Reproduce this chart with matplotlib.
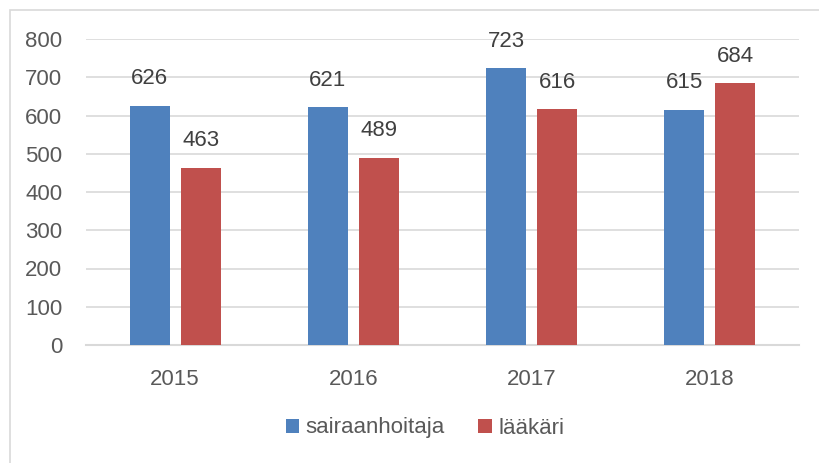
import numpy as np
import matplotlib.pyplot as plt
from matplotlib.patches import Rectangle

years = ['2015', '2016', '2017', '2018']
sairaanhoitaja = [626, 621, 723, 615]
laakari = [463, 489, 616, 684]
yticks = [0, 100, 200, 300, 400, 500, 600, 700, 800]

plt.rcParams['font.family'] = ['Liberation Sans', 'DejaVu Sans']

BLUE = '#4F81BD'
RED = '#C0504D'
TEXT = '#595959'
GRID = '#D9D9D9'

fig = plt.figure(figsize=(8.19, 4.63), dpi=100)
W, H = 819, 463

# chart area border (right and bottom edges fall outside the crop)
fig.patches.append(Rectangle((10 / W, -0.1), 1.2, 1 - 10 / H + 0.1,
                             transform=fig.transFigure, fill=False,
                             edgecolor=GRID, linewidth=1.2))

ax = fig.add_axes([86 / W, 1 - 345 / H, (799 - 86) / W, (345 - 39) / H])

x = np.arange(len(years))
w = 0.224
off = 0.143
b1 = ax.bar(x - off, sairaanhoitaja, w, color=BLUE, label='sairaanhoitaja', zorder=3)
b2 = ax.bar(x + off, laakari, w, color=RED, label='lääkäri', zorder=3)

for bars in (b1, b2):
    for r in bars:
        ax.annotate(f'{int(r.get_height())}', (r.get_x() + r.get_width() / 2, r.get_height()),
                    xytext=(0, 12), textcoords='offset points', ha='center', va='bottom',
                    fontsize=16, color='#404040')

ax.set_xlim(-0.5, len(years) - 0.5)
ax.set_ylim(0, 800)
ax.set_yticks(yticks)
ax.set_xticks(x)
ax.set_xticklabels(years)
ax.tick_params(axis='both', length=0, labelsize=16, labelcolor=TEXT)
ax.tick_params(axis='y', pad=17)
ax.tick_params(axis='x', pad=17)
ax.grid(axis='y', color=GRID, linewidth=1.2, zorder=0)
for s in ('top', 'right', 'left'):
    ax.spines[s].set_visible(False)
ax.spines['bottom'].set_color(GRID)
ax.spines['bottom'].set_linewidth(1.5)
ax.set_facecolor('none')

fig.legend(handles=[b1, b2], loc='center', bbox_to_anchor=(425 / W, 1 - 428 / H),
           ncol=2, frameon=False, fontsize=16, labelcolor=TEXT,
           handlelength=0.6, handleheight=0.6, handletextpad=0.3, columnspacing=1.5)

fig.savefig('out.png', dpi=100)
